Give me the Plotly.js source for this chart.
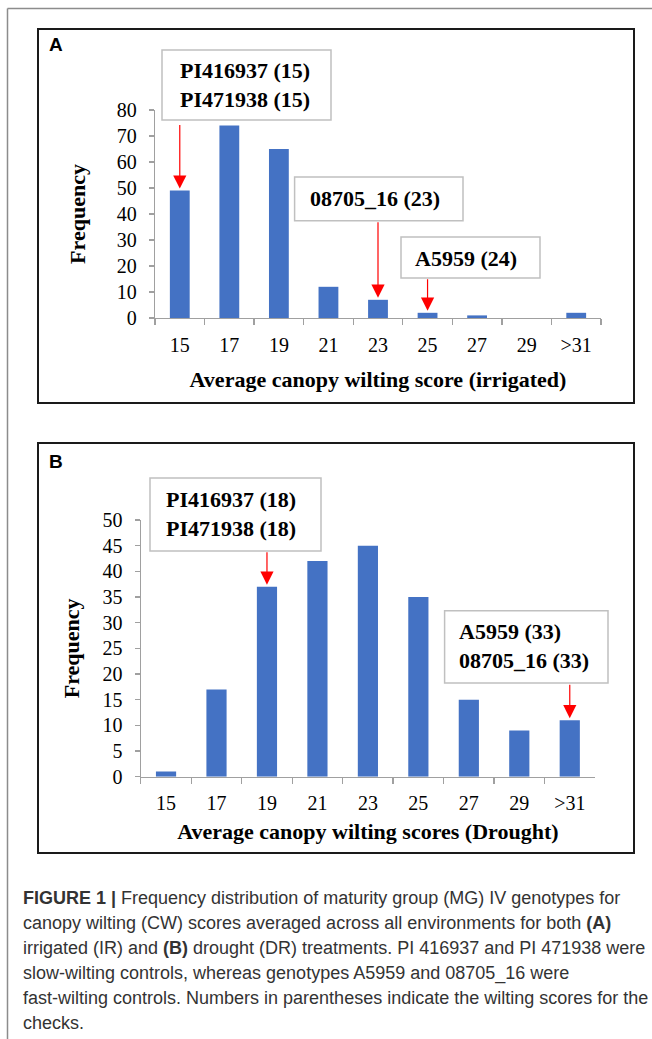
<!DOCTYPE html>
<html>
<head>
<meta charset="utf-8">
<script src="https://cdn.plot.ly/plotly-3.0.1.min.js"></script>
<style>
  html, body { margin: 0; padding: 0; background: #ffffff; }
  #chart { width: 652px; height: 1039px; }
</style>
</head>
<body>
<div id="chart"></div>
<script>
// ---- data ----
const categories = ['15', '17', '19', '21', '23', '25', '27', '29', '>31'];
const irrigatedFreq = [49, 74, 65, 12, 7, 2, 1, 0, 2];
const droughtFreq = [1, 17, 37, 42, 45, 35, 15, 9, 11];

const panelLabels = ['A', 'B'];
const xTitles = ['Average canopy wilting score (irrigated)', 'Average canopy wilting scores (Drought)'];
const yTitle = 'Frequency';

// check genotypes: label lines, category they point to
const checksIrrigated = [
  { lines: ['PI416937 (15)', 'PI471938 (15)'], cat: '15' },
  { lines: ['08705_16 (23)'], cat: '23' },
  { lines: ['A5959 (24)'], cat: '25' }
];
const checksDrought = [
  { lines: ['PI416937 (18)', 'PI471938 (18)'], cat: '19' },
  { lines: ['A5959 (33)', '08705_16 (33)'], cat: '>31' }
];

const captionLines = [
  '<b>FIGURE 1 |</b> Frequency distribution of maturity group (MG) IV genotypes for',
  'canopy wilting (CW) scores averaged across all environments for both <b>(A)</b>',
  'irrigated (IR) and <b>(B)</b> drought (DR) treatments. PI 416937 and PI 471938 were',
  'slow-wilting controls, whereas genotypes A5959 and 08705_16 were',
  'fast-wilting controls. Numbers in parentheses indicate the wilting scores for the',
  'checks.'
];

// ---- layout helpers (pixel -> paper) ----
const W = 652, H = 1039;
const PX = p => p / W;
const PY = p => 1 - p / H;

const SERIF = 'Liberation Serif, Times New Roman, serif';
const SANS = 'Liberation Sans, Arial, sans-serif';
const BLUE = '#4472C4';
const AXIS = '#a0a0a0';
const NCAT = categories.length;

const traces = [
  { type: 'bar', x: categories, y: irrigatedFreq, xaxis: 'x', yaxis: 'y',
    marker: { color: BLUE }, hoverinfo: 'x+y', showlegend: false },
  { type: 'bar', x: categories, y: droughtFreq, xaxis: 'x2', yaxis: 'y2',
    marker: { color: BLUE }, hoverinfo: 'x+y', showlegend: false }
];

function xAxis(domain, anchor, title, labelStandoff, standoff) {
  return {
    domain: domain, anchor: anchor, type: 'category',
    categoryorder: 'array', categoryarray: categories,
    range: [-0.5, NCAT - 0.5], autorange: false, tickangle: 0,
    showline: true, linecolor: AXIS, linewidth: 1.3,
    ticks: 'outside', tickson: 'boundaries', ticklen: 6, tickcolor: AXIS, tickwidth: 1.3,
    tickfont: { family: SERIF, size: 20, color: '#000' },
    ticklabelstandoff: labelStandoff,
    showgrid: false, zeroline: false, fixedrange: true,
    title: { text: '<b>' + title + '</b>', font: { family: SERIF, size: 22, color: '#000' }, standoff: standoff }
  };
}
function yAxis(domain, anchor, range, dtick, standoff) {
  return {
    domain: domain, anchor: anchor, range: range, autorange: false, dtick: dtick,
    showline: true, linecolor: AXIS, linewidth: 1.3,
    ticks: 'outside', ticklen: 5, tickcolor: AXIS, tickwidth: 1.3,
    tickfont: { family: SERIF, size: 20, color: '#000' },
    ticklabelstandoff: 8,
    showgrid: false, zeroline: false, fixedrange: true,
    title: { text: '<b>' + yTitle + '</b>', font: { family: SERIF, size: 22, color: '#000' }, standoff: standoff }
  };
}

const shapes = [];
const annotations = [];

function rect(x0, y0, x1, y1, color, width) {
  shapes.push({ type: 'rect', xref: 'paper', yref: 'paper',
    x0: PX(x0), x1: PX(x1), y0: PY(y1), y1: PY(y0),
    line: { color: color, width: width }, fillcolor: 'rgba(255,255,255,1)', layer: 'above' });
}
function line(x0, y0, x1, y1, color, width) {
  shapes.push({ type: 'line', xref: 'paper', yref: 'paper',
    x0: PX(x0), x1: PX(x1), y0: PY(y0), y1: PY(y1),
    line: { color: color, width: width } });
}

// outer page lines
line(7.5, 8.5, 652, 8.5, '#8c8c8c', 1.5);
line(7.5, 8.5, 7.5, 1039, '#8c8c8c', 1.5);

// panel frames
shapes.push({ type: 'rect', xref: 'paper', yref: 'paper', x0: PX(38), x1: PX(634), y0: PY(403), y1: PY(29),
  line: { color: '#1a1a1a', width: 2 }, layer: 'below' });
shapes.push({ type: 'rect', xref: 'paper', yref: 'paper', x0: PX(38), x1: PX(634), y0: PY(853), y1: PY(443),
  line: { color: '#1a1a1a', width: 2 }, layer: 'below' });

// panel letters
annotations.push({ xref: 'paper', yref: 'paper', x: PX(47), y: PY(45), xanchor: 'left', yanchor: 'middle',
  text: '<b>' + panelLabels[0] + '</b>', showarrow: false, font: { family: SANS, size: 19, color: '#000' } });
annotations.push({ xref: 'paper', yref: 'paper', x: PX(47), y: PY(462), xanchor: 'left', yanchor: 'middle',
  text: '<b>' + panelLabels[1] + '</b>', showarrow: false, font: { family: SANS, size: 19, color: '#000' } });

// callout boxes: [x0, y0, x1, y1, textX, textY, anchor]
const boxA = [
  [162, 50, 331, 120, 245, 85, 'center'],
  [294.6, 177, 463, 220.7, 375, 199, 'center'],
  [401, 237, 540, 278, 466, 258, 'center']
];
const boxB = [
  [150, 478, 321, 551, 231, 514, 'center'],
  [444.6, 610.7, 608, 683, 457, 646, 'left']
];
const arrowLenA = [-67, -79, -35];
const arrowLenB = [-36, -37];

function addChecks(checks, boxes, lens, xref, yref, values) {
  checks.forEach((c, i) => {
    const b = boxes[i];
    rect(b[0], b[1], b[2], b[3], '#c0c0c0', 1.5);
    annotations.push({ xref: 'paper', yref: 'paper', x: PX(b[4]), y: PY(b[5]),
      xanchor: b[6], yanchor: 'middle', align: b[6],
      text: '<b>' + c.lines.join('<br>') + '</b>', showarrow: false,
      font: { family: SERIF, size: 22, color: '#000' } });
    const k = categories.indexOf(c.cat);
    annotations.push({ xref: xref, yref: yref, x: k, y: values[k],
      ax: 0, ay: lens[i], text: '', showarrow: true,
      arrowhead: 2, arrowsize: 2.2, arrowwidth: 1.2, arrowcolor: '#ff0000', standoff: 2 });
  });
}
addChecks(checksIrrigated, boxA, arrowLenA, 'x', 'y', irrigatedFreq);
addChecks(checksDrought, boxB, arrowLenB, 'x2', 'y2', droughtFreq);

// caption
const capY = [898, 923, 948, 973, 998, 1023];
captionLines.forEach((t, i) => {
  annotations.push({ xref: 'paper', yref: 'paper', x: PX(21), y: PY(capY[i]),
    xanchor: 'left', yanchor: 'middle', align: 'left', text: t, showarrow: false,
    font: { family: SANS, size: 18, color: '#333333' } });
});

const layout = {
  width: W, height: H,
  margin: { l: 0, r: 0, t: 0, b: 0 },
  paper_bgcolor: '#ffffff', plot_bgcolor: 'rgba(0,0,0,0)',
  showlegend: false,
  bargap: 0.6,
  xaxis: xAxis([PX(155), PX(601)], 'y', xTitles[0], 9, 16),
  yaxis: yAxis([PY(318), PY(110)], 'x', [0, 80], 10, 25),
  xaxis2: xAxis([PX(140.8), PX(595)], 'y2', xTitles[1], 8, 10),
  yaxis2: yAxis([PY(776.7), PY(520)], 'x2', [0, 50], 5, 16),
  shapes: shapes,
  annotations: annotations
};

Plotly.newPlot('chart', traces, layout, { displayModeBar: false, staticPlot: true });
</script>
</body>
</html>
